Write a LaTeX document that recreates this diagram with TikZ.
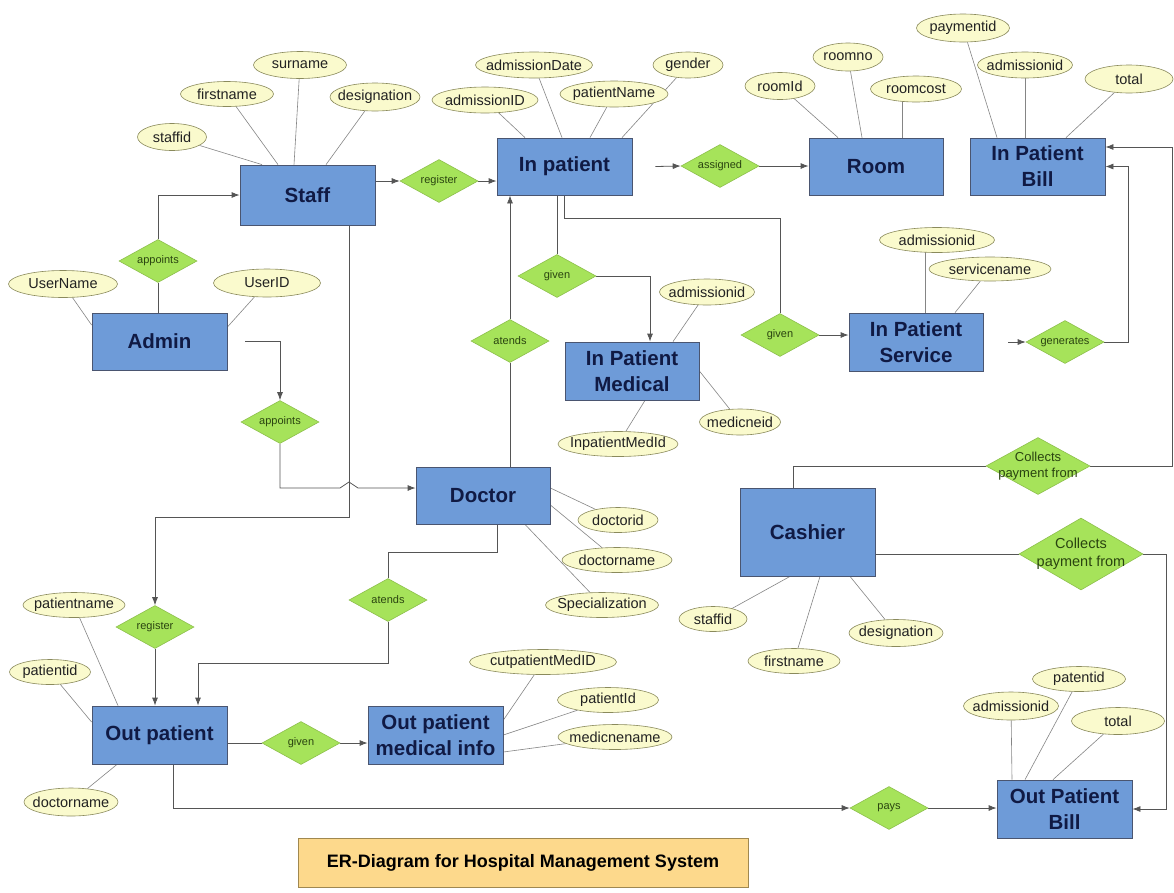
\documentclass[tikz,border=0pt]{standalone}
\usepackage{fontspec}
\setmainfont{Liberation Sans}
\usetikzlibrary{shapes.geometric,arrows.meta,backgrounds}
\definecolor{entf}{HTML}{6E9BD8}
\definecolor{entb}{HTML}{4A5570}
\definecolor{entt}{HTML}{101A44}
\definecolor{attf}{HTML}{FAFACD}
\definecolor{attb}{HTML}{8A8A5C}
\definecolor{attt}{HTML}{222222}
\definecolor{relf}{HTML}{A6E35A}
\definecolor{relb}{HTML}{8DBF4C}
\definecolor{relt}{HTML}{2A4410}
\definecolor{titf}{HTML}{FDD98C}
\definecolor{titb}{HTML}{A08850}
\definecolor{conc}{HTML}{555555}
\definecolor{attl}{HTML}{858585}
\newcommand{\zw}[1]{\makebox[0pt]{#1}}
\begin{document}
\begin{tikzpicture}[x=1pt,y=-1pt,
  entbox/.style={rectangle, draw=entb, fill=entf, line width=0.8pt, inner sep=0pt,
    minimum width=135pt, minimum height=57pt, text=entt, align=center,
    font=\fontsize{20.5}{26}\selectfont\bfseries},
  attell/.style={ellipse, draw=attb, fill=attf, line width=0.6pt, inner sep=0pt,
    minimum height=26pt, text=attt, font=\fontsize{14.5}{16}\selectfont},
  reldia/.style={diamond, draw=relb, fill=relf, line width=0.6pt, inner sep=0pt,
    minimum width=78pt, minimum height=43pt, aspect=1.8, text=relt,
    font=\fontsize{11}{13}\selectfont},
  titlebox/.style={rectangle, draw=titb, fill=titf, line width=0.8pt, inner sep=0pt,
    minimum width=450pt, minimum height=49pt, text=black,
    font=\fontsize{18}{21}\selectfont\bfseries},
  conline/.style={draw=conc, line width=0.8pt},
  arrline/.style={conline, -{Latex[length=8pt,width=6pt]}},
  attline/.style={draw=attl, line width=0.6pt}]
\useasboundingbox (0,0) rectangle (1174,892);

% entities
\node[entbox, minimum height=60pt] (staff) at (307.5,195) {Staff};
\node[entbox] (inp) at (564.5,166.5) {In patient};
\node[entbox, minimum width=134pt] (room) at (876,166.5) {Room};
\node[entbox] (ipbill) at (1037.5,166.5) {In Patient\\Bill};
\node[entbox] (admin) at (159.5,341.5) {Admin};
\node[entbox, minimum width=134pt, minimum height=58pt] (ipmed) at (632,371) {In Patient\\Medical};
\node[entbox, minimum width=134pt, minimum height=58pt] (ipserv) at (916,342) {In Patient\\Service};
\node[entbox, minimum width=134pt] (doctor) at (483,495.5) {Doctor};
\node[entbox, minimum height=88pt] (cashier) at (807.5,532) {Cashier};
\node[entbox, minimum height=58pt] (outp) at (159.5,735) {Out patient};
\node[entbox, minimum height=58pt] (opmed) at (435.5,735) {Out patient\\medical info};
\node[entbox, minimum height=58pt] (opbill) at (1064.5,809) {Out Patient\\Bill};
\node[titlebox] (title) at (523,862.5) {ER-Diagram for Hospital Management System};

% attributes
\node[attell, minimum width=69pt, minimum height=27pt] (sid) at (172,137) {\zw{staffid}};
\node[attell, minimum width=93pt, minimum height=25pt] (sfn) at (227,94) {\zw{firstname}};
\node[attell, minimum width=93pt, minimum height=27pt] (ssn) at (300,65) {\zw{surname}};
\node[attell, minimum width=90pt, minimum height=28pt] (sdes) at (375,97) {\zw{designation}};
\node[attell, minimum width=109pt, minimum height=27pt] (aun) at (63,284) {\zw{UserName}};
\node[attell, minimum width=107pt, minimum height=28pt] (auid) at (267,283) {\zw{UserID}};
\node[attell, minimum width=106pt] (iadmid) at (485,100) {\zw{admissionID}};
\node[attell, minimum width=117pt] (iadmdate) at (534,65) {\zw{admissionDate}};
\node[attell, minimum width=108pt] (ipname) at (614,94) {\zw{patientName}};
\node[attell, minimum width=70pt] (igender) at (688,65) {\zw{gender}};
\node[attell, minimum width=70pt, minimum height=27pt] (rid) at (780,86) {\zw{roomId}};
\node[attell, minimum width=70pt, minimum height=28pt] (rno) at (848,57) {\zw{roomno}};
\node[attell, minimum width=91pt] (rcost) at (916,89) {\zw{roomcost}};
\node[attell, minimum width=93pt, minimum height=28pt] (bpay) at (963,28) {\zw{paymentid}};
\node[attell, minimum width=95pt] (badm) at (1025,65) {\zw{admissionid}};
\node[attell, minimum width=88pt, minimum height=28pt] (btot) at (1129,79) {\zw{total}};
\node[attell, minimum width=115pt, minimum height=25pt] (vadm) at (937,240) {\zw{admissionid}};
\node[attell, minimum width=122pt, minimum height=24pt] (vsname) at (990,269) {\zw{servicename}};
\node[attell, minimum width=95pt] (madm) at (707,292) {\zw{admissionid}};
\node[attell, minimum width=120pt, minimum height=25pt] (mimid) at (618,444) {\zw{InpatientMedId}};
\node[attell, minimum width=81pt] (mmed) at (740,422) {\zw{medicneid}};
\node[attell, minimum width=80pt, minimum height=25pt] (did) at (618,520) {\zw{doctorid}};
\node[attell, minimum width=110pt, minimum height=25pt] (dname) at (617,560) {\zw{doctorname}};
\node[attell, minimum width=113pt, minimum height=25pt] (dspec) at (602,605) {\zw{Specialization}};
\node[attell, minimum width=68pt, minimum height=25pt] (cid) at (713,619) {\zw{staffid}};
\node[attell, minimum width=92pt, minimum height=25pt] (cfn) at (794,661) {\zw{firstname}};
\node[attell, minimum width=94pt, minimum height=27pt] (cdes) at (896,633) {\zw{designation}};
\node[attell, minimum width=102pt, minimum height=25pt] (opn) at (74,605) {\zw{patientname}};
\node[attell, minimum width=81pt, minimum height=25pt] (opid) at (50,672) {\zw{patientid}};
\node[attell, minimum width=94pt, minimum height=28pt] (odn) at (71,802) {\zw{doctorname}};
\node[attell, minimum width=147pt, minimum height=25pt] (qcut) at (543,662) {\zw{cutpatientMedID}};
\node[attell, minimum width=101pt, minimum height=25pt] (qpid) at (608,700) {\zw{patientId}};
\node[attell, minimum width=114pt, minimum height=25pt] (qmed) at (615,737) {\zw{medicnename}};
\node[attell, minimum width=95pt, minimum height=28pt] (padm) at (1011,706) {\zw{admissionid}};
\node[attell, minimum width=93pt, minimum height=25pt] (ppid) at (1079,679) {\zw{patentid}};
\node[attell, minimum width=93pt, minimum height=27pt] (ptot) at (1118,721) {\zw{total}};

% relationships
\node[reldia] (appTop) at (158,261) {\zw{appoints}};
\node[reldia] (appBot) at (280,422) {\zw{appoints}};
\node[reldia] (regIn) at (439,181) {\zw{register}};
\node[reldia] (assigned) at (720,166) {\zw{assigned}};
\node[reldia] (givenMed) at (557,276) {\zw{given}};
\node[reldia] (givenServ) at (780,335) {\zw{given}};
\node[reldia] (gen) at (1065,342) {\zw{generates}};
\node[reldia] (atIn) at (510,341) {\zw{atends}};
\node[reldia] (atOut) at (388,600) {\zw{atends}};
\node[reldia] (regOut) at (155,627) {\zw{register}};
\node[reldia] (givenOut) at (301,743) {\zw{given}};
\node[reldia] (pays) at (889,808) {\zw{pays}};
\node[reldia, minimum width=104pt, minimum height=57pt, font=\fontsize{13}{16}\selectfont] (collTop) at (1038,466)
  {\zw{\begin{tabular}{@{}c@{}}Collects\\payment from\end{tabular}}};
\node[reldia, minimum width=124pt, minimum height=72pt, font=\fontsize{14.5}{18}\selectfont] (collBot) at (1081,554)
  {\zw{\begin{tabular}{@{}c@{}}Collects\\payment from\end{tabular}}};

\coordinate (hop) at (340,488);
\coordinate (sbend) at (349,517);

\begin{pgfonlayer}{background}
\fill[white] (0,0) rectangle (1174,892);
% attribute lines
\draw[attline] (sid) -- ([xshift=-45.5pt]staff.north);
\draw[attline] (sfn) -- ([xshift=-29.5pt]staff.north);
\draw[attline] (ssn) -- ([xshift=-13.5pt]staff.north);
\draw[attline] (sdes) -- ([xshift=18.5pt]staff.north);
\draw[attline] (aun) -- ([yshift=16.5pt]admin.west);
\draw[attline] (auid) -- ([yshift=14.5pt]admin.east);
\draw[attline] (iadmid) -- ([xshift=-39.5pt]inp.north);
\draw[attline] (iadmdate) -- ([xshift=-2.5pt]inp.north);
\draw[attline] (ipname) -- ([xshift=25.5pt]inp.north);
\draw[attline] (igender) -- ([xshift=57.5pt]inp.north);
\draw[attline] (rid) -- ([xshift=-38pt]room.north);
\draw[attline] (rno) -- ([xshift=-14pt]room.north);
\draw[attline] ([xshift=26pt]room.north) -- ++(0,-40);
\draw[attline] (bpay) -- ([xshift=-40.5pt]ipbill.north);
\draw[attline] (badm) -- ([xshift=-12.5pt]ipbill.north);
\draw[attline] (btot) -- ([xshift=28.5pt]ipbill.north);
\draw[attline] ([xshift=9pt]ipserv.north) -- ++(0,-70);
\draw[attline] (vsname) -- ([xshift=39pt]ipserv.north);
\draw[attline] (madm) -- ([xshift=41pt]ipmed.north);
\draw[attline] (mimid) -- ([xshift=13pt]ipmed.south);
\draw[attline] (mmed) -- (ipmed.east);
\draw[attline] (did) -- ([yshift=7.5pt]doctor.east);
\draw[attline] (dname) -- ([yshift=-9.5pt]doctor.east);
\draw[attline] (dspec) -- ([xshift=42pt]doctor.south);
\draw[attline] (cid) -- ([xshift=-17.5pt]cashier.south);
\draw[attline] (cfn) -- ([xshift=12.5pt]cashier.south);
\draw[attline] (cdes) -- ([xshift=42.5pt]cashier.south);
\draw[attline] (opn) -- ([xshift=-41.5pt]outp.north);
\draw[attline] (opid) -- ([yshift=13pt]outp.west);
\draw[attline] (odn) -- ([xshift=-42.5pt]outp.south);
\draw[attline] (qcut) -- ([yshift=15pt]opmed.east);
\draw[attline] (qpid) -- (opmed.east);
\draw[attline] (qmed) -- ([yshift=-17pt]opmed.east);
\draw[attline] (padm) -- ([xshift=-52.5pt]opbill.north);
\draw[attline] (ppid) -- ([xshift=-39.5pt]opbill.north);
\draw[attline] (ptot) -- ([xshift=-11.5pt]opbill.north);
% relationship connectors
\draw[arrline] (staff.east |- regIn) -- (regIn.west);
\draw[arrline] (regIn.east) -- (inp.west |- regIn);
\draw[conline] (admin.north -| appTop) -- (appTop.south);
\draw[arrline] (appTop.north) |- (staff.west);
\draw[arrline] ([xshift=18pt]admin.east) -| (appBot.north);
\draw[arrline] (appBot.south) |- (hop) -- ++(9,-6) -- ++(9,6) -- ([yshift=7.5pt]doctor.west);
\draw[arrline] (staff.south -| sbend) -- (sbend) -| (regOut.north);
\draw[arrline] (regOut.south) -- (outp.north -| regOut);
\draw[conline] (inp.south -| givenMed) -- (givenMed.north);
\draw[arrline] (givenMed.east) -| ([xshift=18pt]ipmed.north);
\draw[conline] (inp.south) -- ++(0,23) -| (givenServ.north);
\draw[arrline] (givenServ.east) -- (ipserv.west |- givenServ);
\draw[conline] (doctor.north -| atIn) -- (atIn.south);
\draw[arrline] (atIn.north) -- (inp.south -| atIn);
\draw[arrline] ([xshift=23pt]inp.east) -- (assigned.west);
\draw[arrline] (assigned.east) -- (room.west |- assigned);
\draw[arrline] ([xshift=25pt]ipserv.east) -- (gen.west);
\draw[arrline] (gen.east) -- ++(24,0) |- (ipbill.east);
\draw[conline] ([xshift=-14.5pt]cashier.north) |- (collTop.west);
\draw[arrline] (collTop.east) -- ++(82,0) |- ([yshift=19.5pt]ipbill.east);
\draw[conline] (cashier.east |- collBot) -- (collBot.west);
\draw[arrline] (collBot.east) -- ++(23,0) |- (opbill.east);
\draw[conline] (outp.east |- givenOut) -- (givenOut.west);
\draw[arrline] (givenOut.east) -- (opmed.west |- givenOut);
\draw[conline] ([xshift=14pt]doctor.south) -- ++(0,28) -| (atOut.north);
\draw[arrline] (atOut.south) -- ++(0,42) -| ([xshift=38.5pt]outp.north);
\draw[arrline] ([xshift=13.5pt]outp.south) |- (pays.west);
\draw[arrline] (pays.east) -- (opbill.west |- pays);
\end{pgfonlayer}
\end{tikzpicture}
\end{document}
